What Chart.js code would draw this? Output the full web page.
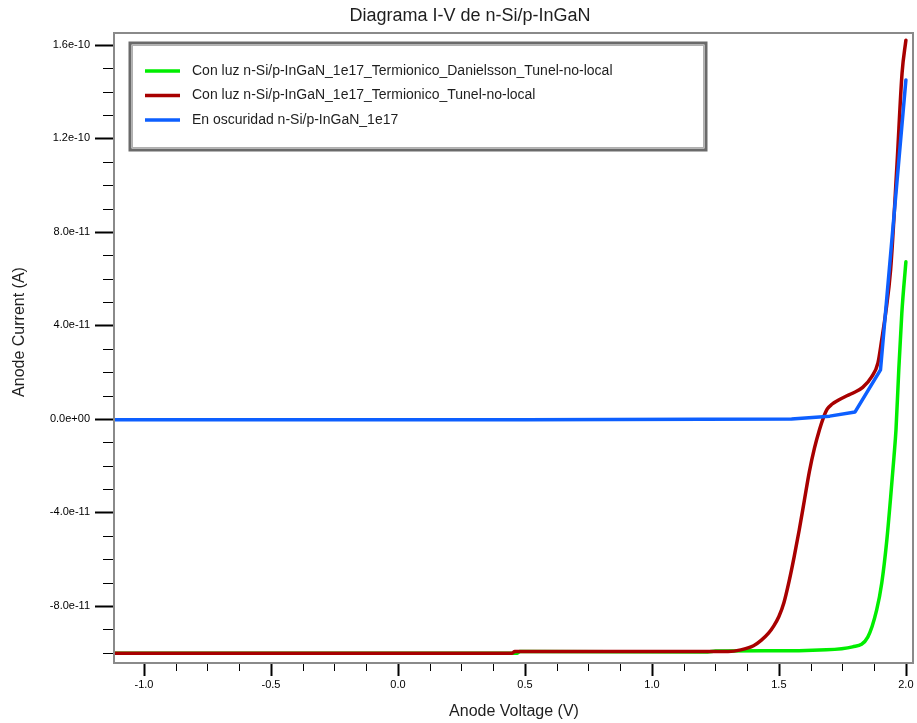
<!DOCTYPE html>
<html>
<head>
<meta charset="utf-8">
<title>Diagrama I-V de n-Si/p-InGaN</title>
<script src="https://cdn.jsdelivr.net/npm/chart.js@4.4.0/dist/chart.umd.min.js"></script>
<style>
  html, body { margin: 0; padding: 0; background: #ffffff; }
  canvas { display: block; }
</style>
</head>
<body>
<canvas id="iv" width="917" height="723"></canvas>
<script>
// Anode voltage (V) and anode current (A) for each simulated device
const voltsDanielsson = [-1.12, 0.47, 0.48, 1.22, 1.25, 1.5, 1.66, 1.79, 1.85, 1.885, 1.905, 1.925, 1.94, 1.953, 1.961, 1.972, 1.984, 2.0];
const ampsDanielsson = [-1.002e-10, -1.002e-10, -9.95e-11, -9.97e-11, -9.93e-11, -9.92e-11, -9.88e-11, -9.75e-11, -9.33e-11, -8.17e-11, -7.02e-11, -5.18e-11, -3.34e-11, -1.63e-11, -4.7e-12, 2.1e-11, 4.53e-11, 6.72e-11];

const voltsTunel = [-1.12, 0.45, 0.46, 1.1, 1.3, 1.35, 1.4, 1.43, 1.46, 1.48, 1.5, 1.52, 1.54, 1.56, 1.58, 1.6, 1.62, 1.64, 1.66, 1.675, 1.69, 1.71, 1.73, 1.76, 1.79, 1.83, 1.865, 1.89, 1.905, 1.92, 1.94, 1.965, 1.985, 2.0];
const ampsTunel = [-1.002e-10, -1.002e-10, -9.95e-11, -9.95e-11, -9.95e-11, -9.88e-11, -9.7e-11, -9.47e-11, -9.15e-11, -8.85e-11, -8.45e-11, -7.85e-11, -6.95e-11, -5.9e-11, -4.75e-11, -3.5e-11, -2.25e-11, -1.25e-11, -4.5e-12, 5.0e-13, 4.2e-12, 6.4e-12, 7.8e-12, 9.5e-12, 1.1e-11, 1.35e-11, 1.8e-11, 2.4e-11, 3.4e-11, 4.5e-11, 6.4e-11, 1.09e-10, 1.48e-10, 1.62e-10];

const voltsDark = [-1.12, 0.5, 1.55, 1.7, 1.8, 1.9, 2.0];
const ampsDark = [-3e-13, -3e-13, 0, 1.2e-12, 3.0e-12, 2.1e-11, 1.45e-10];

const seriesLabels = [
  'Con luz n-Si/p-InGaN_1e17_Termionico_Danielsson_Tunel-no-local',
  'Con luz n-Si/p-InGaN_1e17_Termionico_Tunel-no-local',
  'En oscuridad n-Si/p-InGaN_1e17'
];
const seriesColors = ['#00ee00', '#a80000', '#0d5fff'];

// Tick positions: minor every 0.125 V / 1e-11 A, labelled every 0.5 V / 4e-11 A
const xTickSteps = [];
for (let k = -8; k <= 16; k++) xTickSteps.push(k);
const yTickSteps = [];
for (let k = -10; k <= 16; k++) yTickSteps.push(k);

const chartTitle = 'Diagrama I-V de n-Si/p-InGaN';
const xTitle = 'Anode Voltage (V)';
const yTitle = 'Anode Current (A)';

const FONT = '"Liberation Sans", Arial, sans-serif';

function pairs(xs, ys) {
  return xs.map((x, i) => ({ x: x, y: ys[i] }));
}

function sciLabel(v) {
  return v.toExponential(1).replace(/e([+-])(\d)$/, 'e$10$2');
}

const decorations = {
  id: 'decorations',
  afterDatasetsDraw(chart) {
    const ctx = chart.ctx;
    const a = chart.chartArea;
    const xs = chart.scales.x;
    const ys = chart.scales.y;
    ctx.save();

    // plot frame
    ctx.strokeStyle = '#8a8a8a';
    ctx.lineWidth = 2;
    ctx.strokeRect(a.left, a.top, a.right - a.left, a.bottom - a.top);

    // tick marks outside the frame
    ctx.strokeStyle = '#000';
    xTickSteps.forEach(k => {
      const px = Math.round(xs.getPixelForValue(k * 0.125)) + 0.5;
      const major = k % 4 === 0;
      ctx.lineWidth = major ? 2 : 1;
      ctx.beginPath();
      ctx.moveTo(px, a.bottom + 1);
      ctx.lineTo(px, a.bottom + (major ? 13 : 8));
      ctx.stroke();
    });
    yTickSteps.forEach(k => {
      const py = Math.round(ys.getPixelForValue(k * 1e-11)) + 0.5;
      const major = k % 4 === 0;
      ctx.lineWidth = major ? 2 : 1;
      ctx.beginPath();
      ctx.moveTo(a.left - 1, py);
      ctx.lineTo(a.left - (major ? 19 : 11), py);
      ctx.stroke();
    });

    // legend box
    const lx = 130, ly = 43, lw = 576, lh = 107;
    ctx.fillStyle = '#ffffff';
    ctx.fillRect(lx, ly, lw, lh);
    ctx.strokeStyle = '#6a6a6a';
    ctx.lineWidth = 3;
    ctx.strokeRect(lx, ly, lw, lh);
    ctx.strokeStyle = '#b0b0b0';
    ctx.lineWidth = 1;
    ctx.strokeRect(lx + 2.5, ly + 2.5, lw - 5, lh - 5);

    ctx.font = '14px ' + FONT;
    ctx.textBaseline = 'middle';
    ctx.textAlign = 'left';
    chart.data.datasets.forEach((ds, i) => {
      const rowY = 71 + i * 24.5;
      ctx.strokeStyle = ds.borderColor;
      ctx.lineWidth = 3.5;
      ctx.beginPath();
      ctx.moveTo(145, rowY);
      ctx.lineTo(180, rowY);
      ctx.stroke();
      ctx.fillStyle = '#1e1e1e';
      ctx.fillText(ds.label, 192, rowY);
    });

    // chart and axis titles
    ctx.fillStyle = '#1e1e1e';
    ctx.textAlign = 'center';
    ctx.font = '18px ' + FONT;
    ctx.fillText(chartTitle, 470, 16);
    ctx.font = '16px ' + FONT;
    ctx.fillText(xTitle, 514, 712);
    ctx.save();
    ctx.translate(20, 332);
    ctx.rotate(-Math.PI / 2);
    ctx.fillText(yTitle, 0, 0);
    ctx.restore();

    ctx.restore();
  }
};

new Chart(document.getElementById('iv'), {
  type: 'line',
  data: {
    datasets: [
      { label: seriesLabels[0], data: pairs(voltsDanielsson, ampsDanielsson), borderColor: seriesColors[0], order: 3, cubicInterpolationMode: 'monotone' },
      { label: seriesLabels[1], data: pairs(voltsTunel, ampsTunel), borderColor: seriesColors[1], order: 2, cubicInterpolationMode: 'monotone' },
      { label: seriesLabels[2], data: pairs(voltsDark, ampsDark), borderColor: seriesColors[2], order: 1, tension: 0 }
    ]
  },
  options: {
    responsive: false,
    animation: false,
    parsing: false,
    layout: { padding: { left: 0, right: 4, top: 33, bottom: 0 } },
    elements: {
      line: { borderWidth: 3.5, fill: false, borderCapStyle: 'round', borderJoinStyle: 'round' },
      point: { radius: 0 }
    },
    plugins: {
      legend: { display: false },
      title: { display: false },
      tooltip: { enabled: false }
    },
    scales: {
      x: {
        type: 'linear',
        min: -1.118,
        max: 2.028,
        afterFit(s) { s.height = 60; s.paddingLeft = 0; s.paddingRight = 0; },
        afterBuildTicks(s) { s.ticks = xTickSteps.map(k => ({ value: k * 0.125 })); },
        grid: { display: false, drawTicks: false },
        border: { display: false },
        ticks: {
          autoSkip: false,
          maxRotation: 0,
          padding: 15,
          color: '#000',
          font: { family: FONT, size: 11 },
          callback(v, i) { return xTickSteps[i] % 4 === 0 ? v.toFixed(1) : ''; }
        }
      },
      y: {
        type: 'linear',
        min: -1.044e-10,
        max: 1.651e-10,
        afterFit(s) { s.width = 114; s.paddingTop = 0; s.paddingBottom = 0; },
        afterBuildTicks(s) { s.ticks = yTickSteps.map(k => ({ value: k * 1e-11 })); },
        grid: { display: false, drawTicks: false },
        border: { display: false },
        ticks: {
          autoSkip: false,
          padding: 24,
          color: '#000',
          font: { family: FONT, size: 11 },
          callback(v, i) { return yTickSteps[i] % 4 === 0 ? sciLabel(yTickSteps[i] * 1e-11) : ''; }
        }
      }
    }
  },
  plugins: [decorations]
});
</script>
</body>
</html>
